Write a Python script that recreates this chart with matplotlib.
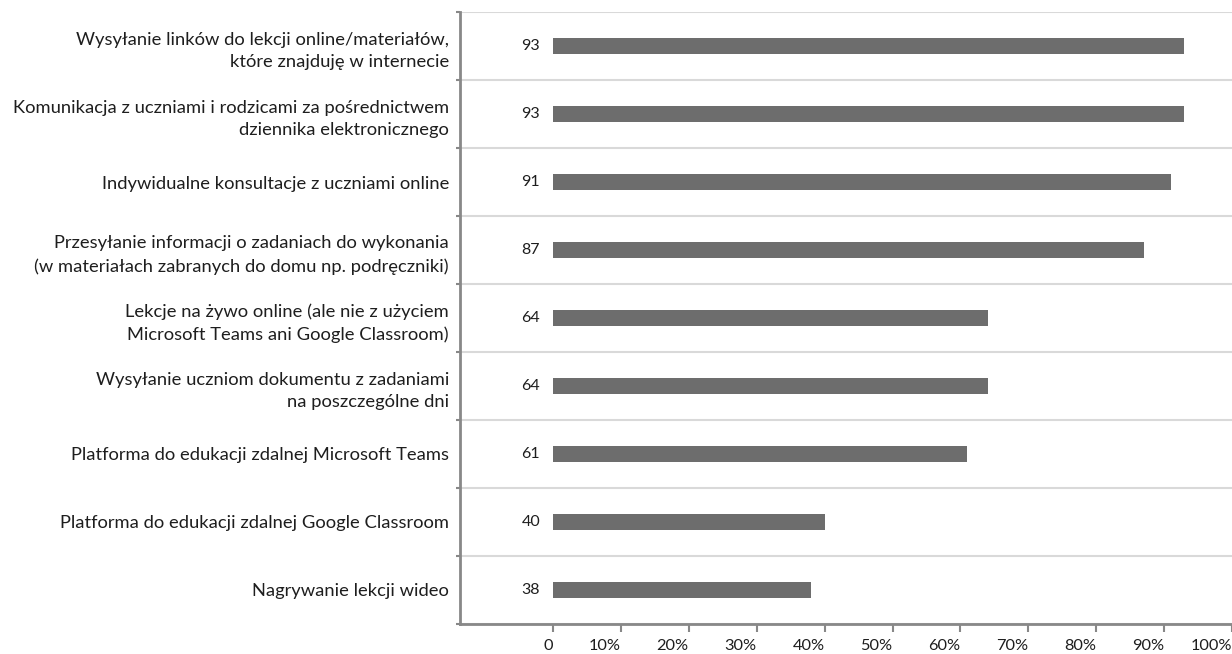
import matplotlib.pyplot as plt
import numpy as np

plt.rcParams['font.family'] = ['Lato', 'DejaVu Sans']

categories = [
    "Wysyłanie linków do lekcji online/materiałów,\nktóre znajduję w internecie",
    "Komunikacja z uczniami i rodzicami za pośrednictwem\ndziennika elektronicznego",
    "Indywidualne konsultacje z uczniami online",
    "Przesyłanie informacji o zadaniach do wykonania\n(w materiałach zabranych do domu np. podręczniki)",
    "Lekcje na żywo online (ale nie z użyciem\nMicrosoft Teams ani Google Classroom)",
    "Wysyłanie uczniom dokumentu z zadaniami\nna poszczególne dni",
    "Platforma do edukacji zdalnej Microsoft Teams",
    "Platforma do edukacji zdalnej Google Classroom",
    "Nagrywanie lekcji wideo",
]
values = [93, 93, 91, 87, 64, 64, 61, 40, 38]
xticks = [0, 10, 20, 30, 40, 50, 60, 70, 80, 90, 100]
xtick_labels = ["0"] + [f"{t}%" for t in xticks[1:]]

fig = plt.figure(figsize=(12.32, 6.54), dpi=100)
ax = fig.add_axes([0.3734, 0.0459, 0.6266, 0.9357])

y = np.arange(len(categories))
ax.barh(y, values, height=0.24, color='#6d6d6d', zorder=3)
for yi, v in zip(y, values):
    ax.text(-1.9, yi, str(v), ha='right', va='center', fontsize=11.5, color='#1e1e1e')

ax.set_xlim(-13.7, 100)
ax.set_ylim(len(categories) - 0.5, -0.5)

ax.set_yticks(y)
ax.set_yticklabels(categories, fontsize=13.2, linespacing=1.5, color='#1e1e1e')
ax.set_yticks(np.arange(-0.5, len(categories), 1), minor=True)
ax.tick_params(axis='y', which='major', length=0, pad=8)
ax.tick_params(axis='y', which='minor', length=3, width=1.5, color='#888888')
ax.grid(axis='y', which='minor', color='#d9d9d9', linewidth=1.5, zorder=0)

# x tick labels sit to the left of their ticks
ax.set_xticks(xticks)
ax.set_xticklabels(xtick_labels, fontsize=11.8, color='#1e1e1e', ha='right')
ax.tick_params(axis='x', length=6, width=1.5, color='#888888', pad=5)

for s in ['top', 'right']:
    ax.spines[s].set_visible(False)
for s in ['left', 'bottom']:
    ax.spines[s].set_color('#888888')
    ax.spines[s].set_linewidth(2)

fig.savefig('out.png', dpi=100)
